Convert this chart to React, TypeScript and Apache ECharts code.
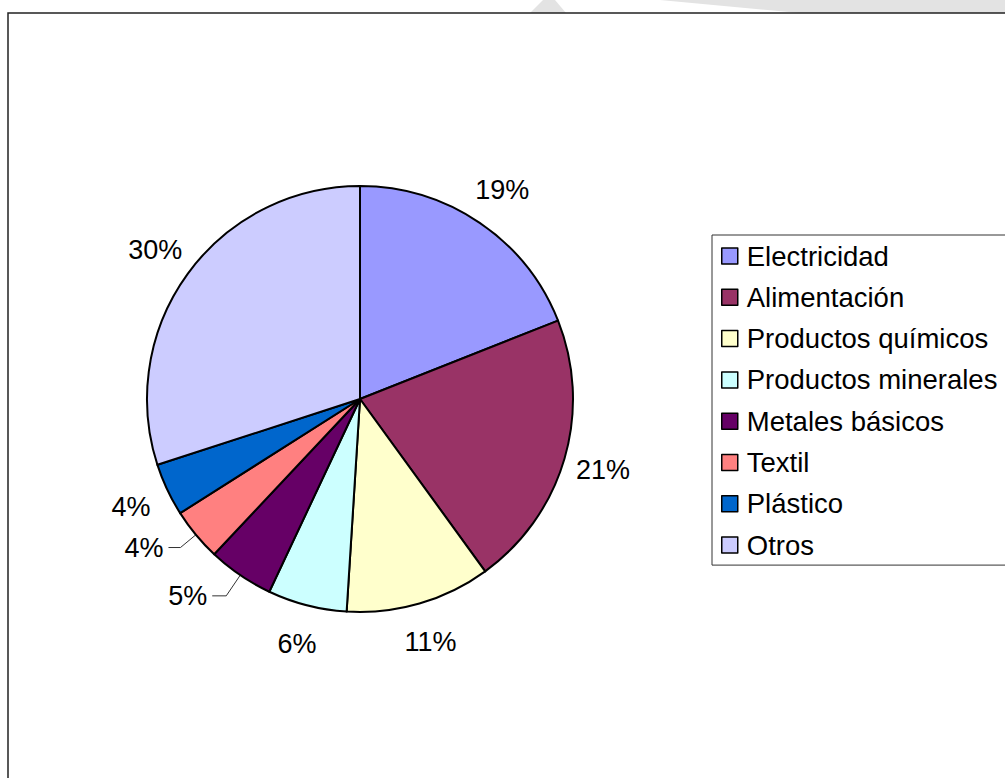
import React, { useEffect, useRef } from "react";
import * as echarts from "echarts";

const categories = [
  "Electricidad",
  "Alimentación",
  "Productos químicos",
  "Productos minerales",
  "Metales básicos",
  "Textil",
  "Plástico",
  "Otros",
];
const values = [19, 21, 11, 6, 5, 4, 4, 30];
const colors = ["#9999FF", "#993366", "#FFFFCC", "#CCFFFF", "#660066", "#FF8080", "#0066CC", "#CCCCFF"];
const leaderCategories = ["Metales básicos", "Textil"];
const leaderLengths: Record<string, [number, number]> = {
  "Metales básicos": [25, 14],
  Textil: [20, 12],
};

const FONT = "'Liberation Sans', Arial, sans-serif";

export default function App() {
  const ref = useRef<HTMLDivElement>(null);
  useEffect(() => {
    if (!ref.current) return;
    const chart = echarts.init(ref.current, null, { renderer: "svg" });
    const center = [360, 399];
    chart.setOption({
      animation: false,
      backgroundColor: "#fff",
      graphic: [
        {
          type: "polygon",
          silent: true,
          shape: { points: [[530, 13], [543, 0], [555, 0], [566, 13]] },
          style: { fill: "#e3e3e3" },
        },
        {
          type: "polygon",
          silent: true,
          shape: { points: [[660, 0], [1005, 0], [1005, 13], [800, 13]] },
          style: { fill: "#e3e3e3" },
        },
        {
          type: "rect",
          silent: true,
          shape: { x: 8, y: 13, width: 1100, height: 900 },
          style: { fill: "none", stroke: "#222", lineWidth: 1.5 },
        },
      ],
      legend: {
        orient: "vertical",
        left: 712,
        top: 235,
        padding: [7, 30, 6, 9],
        borderColor: "#333",
        borderWidth: 1,
        itemWidth: 16,
        itemHeight: 16,
        itemGap: 13.3,
        icon: "rect",
        selectedMode: false,
        itemStyle: { borderColor: "#000", borderWidth: 1.5 },
        textStyle: {
          fontFamily: FONT,
          fontSize: 27.5,
          lineHeight: 27,
          color: "#000",
          padding: [0, 0, 0, 4],
        },
        data: categories.map((name, i) => ({ name, itemStyle: { color: colors[i] } })),
      },
      series: [
        {
          type: "pie",
          center,
          radius: 213,
          startAngle: 90,
          clockwise: true,
          avoidLabelOverlap: false,
          percentPrecision: 0,
          emphasis: { disabled: true },
          itemStyle: { borderColor: "#000", borderWidth: 2 },
          label: {
            position: "outside",
            formatter: "{d}%",
            fontFamily: FONT,
            fontSize: 27,
            color: "#000",
            distanceToLabelLine: 5,
          },
          labelLine: { length: 22, length2: 13, smooth: false, lineStyle: { color: "#333", width: 1 } },
          data: categories.map((name, i) => {
            const lead = leaderCategories.includes(name);
            const len = leaderLengths[name] || [22, 13];
            return {
              name,
              value: values[i],
              itemStyle: { color: colors[i] },
              label: { show: lead },
              labelLine: { show: lead, length: len[0], length2: len[1] },
            };
          }),
        },
        {
          type: "pie",
          center,
          radius: [228, 272],
          startAngle: 90,
          clockwise: true,
          silent: true,
          legendHoverLink: false,
          avoidLabelOverlap: false,
          percentPrecision: 0,
          emphasis: { disabled: true },
          itemStyle: { color: "rgba(0,0,0,0)", borderWidth: 0 },
          label: {
            show: true,
            position: "inside",
            formatter: "{d}%",
            fontFamily: FONT,
            fontSize: 27,
            color: "#000",
            textBorderWidth: 0,
          },
          labelLine: { show: false },
          data: categories.map((name, i) => ({
            name,
            value: values[i],
            itemStyle: { color: "rgba(0,0,0,0)" },
            label: { show: !leaderCategories.includes(name) },
          })),
        },
      ],
    });
    return () => chart.dispose();
  }, []);
  return <div ref={ref} style={{ position: "fixed", left: 0, top: 0, width: 1005, height: 778 }} />;
}
